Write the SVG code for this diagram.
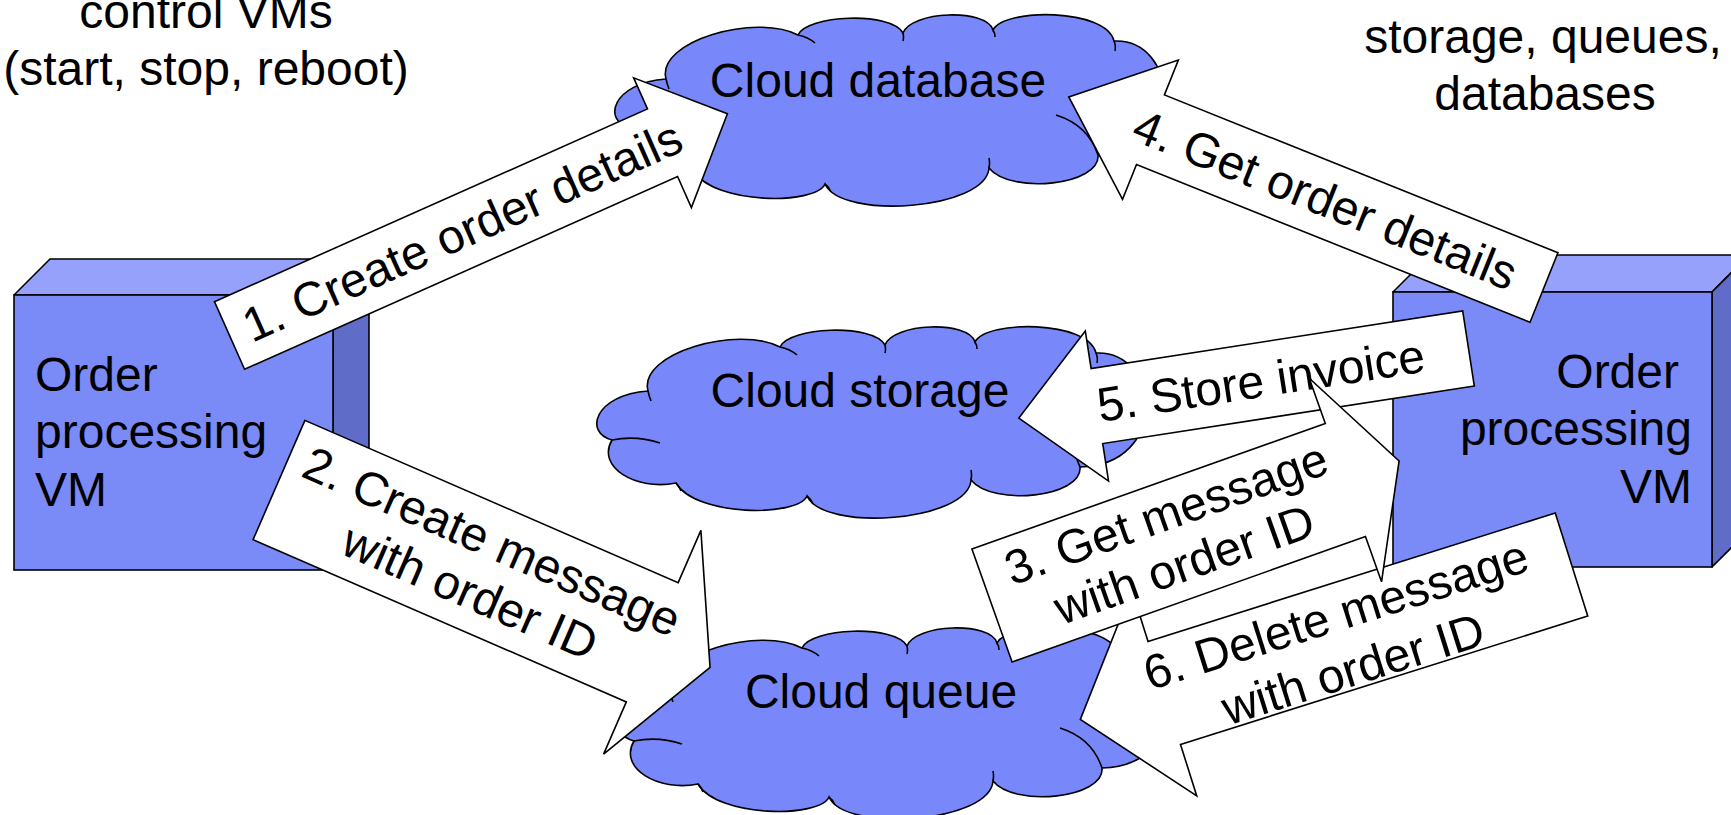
<svg xmlns="http://www.w3.org/2000/svg" xmlns:xlink="http://www.w3.org/1999/xlink" width="1731" height="815" viewBox="0 0 1731 815">
<style>
text{font-family:"Liberation Sans",Arial,Helvetica,sans-serif;font-size:48px;fill:#000}
.front{fill:#7A8BF8;stroke:#000;stroke-width:1.6}
.top{fill:#95A1FA;stroke:#000;stroke-width:1.6;stroke-linejoin:round}
.side{fill:#5F6DC9;stroke:#000;stroke-width:1.6;stroke-linejoin:round}
.cloud{fill:#7888FA;stroke:#000;stroke-width:1.6}
.inner{fill:none;stroke:#000;stroke-width:1.6}
.arrow{fill:#fff;stroke:#000;stroke-width:1.6;stroke-linejoin:miter}
.mid{text-anchor:middle}
.end{text-anchor:end}
</style>
<defs>
<g id="cloudShape">
<path class="cloud" d="M50,66 C40,28 140,0 182,22 C190,2 275,-2 287,20 C295,-2 370,-5 377,17 C388,-5 490,-5 498,28 C562,25 572,140 482,142 C485,172 395,182 373,155 C370,197 225,207 209,171 C200,192 98,192 78,158 C38,166 -2,142 14,115 C-14,108 -4,70 50,66 Z"/>
<path class="inner" d="M14,115 Q38,110 62,118 M182,22 Q192,24 199,30 M287,20 q1,4 0,8 M377,17 q2,3 2,7 M498,28 q2,4 1,10 M482,142 Q472,112 440,102 M373,155 q1,-5 0,-10 M209,171 q4,3 6,8 M78,158 q3,3 5,8 M50,66 q1,5 3,10"/>
</g>
</defs>
<rect width="1731" height="815" fill="#fff"/>

<g id="note-left">
<text class="mid" x="206" y="28">control VMs</text>
<text class="mid" x="206" y="85">(start, stop, reboot)</text>
</g>
<g id="note-right">
<text class="mid" x="1543" y="53">storage, queues,</text>
<text class="mid" x="1545" y="110">databases</text>
</g>

<g id="vm-left">
<polygon class="top" points="14,295 50,259 369,259 333,295"/>
<polygon class="side" points="333,295 369,259 369,534 333,570"/>
<rect class="front" x="14" y="295" width="319" height="275"/>
<text x="35" y="391">Order</text>
<text x="35" y="448">processing</text>
<text x="35" y="506">VM</text>
</g>

<g id="vm-right">
<polygon class="top" points="1393,292 1430,255 1749,255 1712,292"/>
<polygon class="side" points="1712,292 1749,255 1749,530 1712,567"/>
<rect class="front" x="1393" y="292" width="319" height="275"/>
<text class="end" x="1679" y="388">Order</text>
<text class="end" x="1692" y="445">processing</text>
<text class="end" x="1692" y="503">VM</text>
</g>

<g id="cloud-database">
<use xlink:href="#cloudShape" href="#cloudShape" transform="translate(616,13)"/>
<text class="mid" x="878" y="97">Cloud database</text>
</g>
<g id="cloud-storage">
<use xlink:href="#cloudShape" href="#cloudShape" transform="translate(598,325)"/>
<text class="mid" x="860" y="407">Cloud storage</text>
</g>
<g id="cloud-queue">
<use xlink:href="#cloudShape" href="#cloudShape" transform="translate(620,626)"/>
<text class="mid" x="881" y="708">Cloud queue</text>
</g>

<g id="connectors">
<g id="arrow1" transform="translate(229.5,335.5) rotate(-24)">
<path class="arrow" d="M0,-37 H474 V-71 L545,0 L474,71 V37 H0 Z"/>
<text class="mid" x="255" y="16">1. Create order details</text>
</g>
<g id="arrow2" transform="translate(279,480) rotate(23.5)">
<path class="arrow" d="M0,-65 H407 V-122 L470,0 L407,122 V65 H0 Z"/>
<text class="mid" x="220" y="-12">2. Create message</text>
<text class="mid" x="220" y="43">with order ID</text>
</g>
<g id="arrow4">
<path class="arrow" transform="translate(1544,287.5) rotate(201.85)" d="M0,-37.5 H424 V-75 L512,0 L424,75 V37.5 H0 Z"/>
<text class="mid" transform="translate(1325,200) rotate(21.85)" x="0" y="16">4. Get order details</text>
</g>
<g id="arrow5">
<path class="arrow" transform="translate(1468.5,348.5) rotate(171.2)" d="M0,-38 H376 V-76 L455,0 L376,76 V38 H0 Z"/>
<text class="mid" transform="translate(1261,381) rotate(-8.8)" x="0" y="16">5. Store invoice</text>
</g>
<g id="arrow6">
<path class="arrow" transform="translate(1571.5,564.5) rotate(162.5)" d="M0,-54 H427 V-108 L515,0 L427,108 V54 H0 Z"/>
<text class="mid" transform="translate(1343,637) rotate(-17.5)" x="0" y="-7">6. Delete message</text>
<text class="mid" transform="translate(1343,637) rotate(-17.5)" x="0" y="50">with order ID</text>
</g>
<g id="arrow3" transform="translate(992,605.5) rotate(-19.55)">
<path class="arrow" d="M0,-60 H375 V-108 L432,0 L375,108 V60 H0 Z"/>
<text class="mid" x="195" y="-12">3. Get message</text>
<text class="mid" x="195" y="42">with order ID</text>
</g>
</g>
</svg>
